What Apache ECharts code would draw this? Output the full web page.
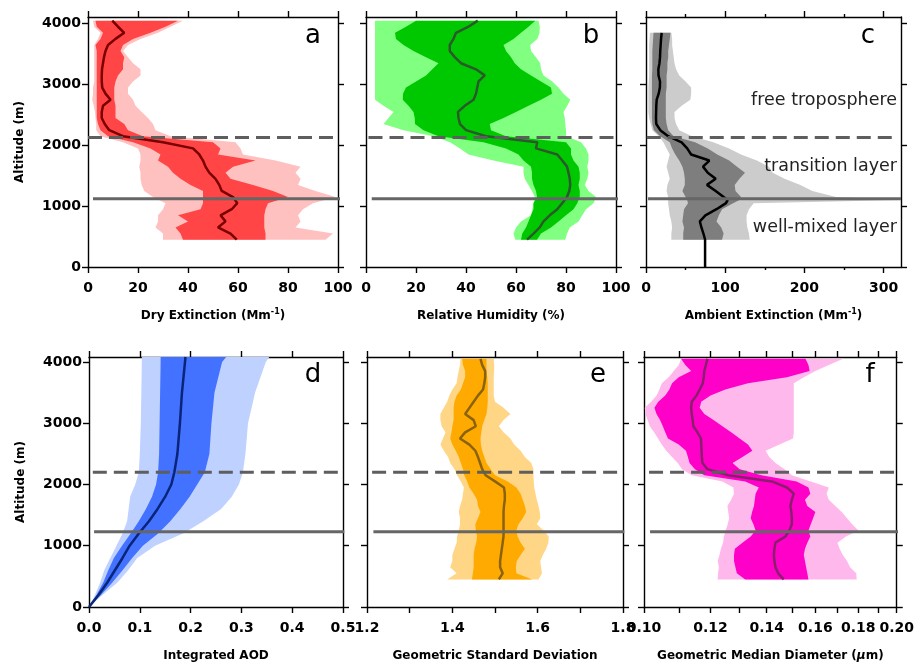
<!DOCTYPE html>
<html><head><meta charset="utf-8">
<script src="https://cdn.jsdelivr.net/npm/echarts@6/dist/echarts.min.js"></script>
<style>html,body{margin:0;padding:0;background:#fff}#chart{width:917px;height:663px}</style>
</head><body><div id="chart"></div>
<script>
// ---------------- DATA ----------------
const altTop = [450,550,650,750,850,950,1050,1150,1250,1350,1450,1550,1650,1750,1850,1950,2050,2150,2250,2350,2450,2550,2650,2750,2850,2950,3050,3150,3250,3350,3450,3550,3650,3750,3850,3950,4050];

// (a) Dry extinction (Mm-1)
const aP10 = [30,30,27,28,28,30,31, 26,22.5,21.5,21,21,20.5,21,21,20,14, 5,3.3,3.3,3,2.8,2.3,1.7,2,2,2.5, 2.5,2.5,2.5,2.5,2.5,2.5,4,5,2.5,2];
const aP25 = [38,37,35,40,36,45,46, 46,46,41,37,34,32,28,29,25,18, 8,5,4,3.5,3.5,3.5,3.5,3.5,3.5,3.5, 3.5,3.5,3.5,3.5,3.5,3,5,6,3.5,3];
const aP50 = [59.5,57,52,55,53,57.5,59.7, 58,53.5,52.5,51,48.5,47,46,44.5,42,30, 14,8.5,6.7,5.5,5.5,6,9,7,5.7,5.5, 5.5,5.6,6,6.4,7,8,11,14.5,12,9.7];
const aP75 = [71,71,70.5,70.5,70.5,71,72, 80,74,66,57,55,58,67,52,53,50, 22,16,14.5,11,11,11,10.5,10.5,10.5,11, 12,14,14,14.5,13,14,18,25,31,36];
const aP90 = [95,98,83,85,84,86,90, 99,91,84,85,83,85,75,62,61,59, 33,27,26,24,21.5,19,18,16,16,18, 21,21,18,16,14,16,21,28,33,38];

// (b) Relative humidity (%)
const bP10 = [59.7,59,60,62,66,66.5,67, 67.5,66.4,65,63.5,63,63,51,41,37.6,33.6, 27,15,7,9,11,7,3.6,3.6,3.6,3.6, 3.6,3.6,3.6,3.6,3.6,3.6,3.6,3.6,3.6,3.6];
const bP25 = [62,62.5,64,65,66,67,67, 68.4,68,67,66.4,66.4,66,63,61,56,47, 29,23,19.6,19.5,19,17,14.7,14.8,16,20, 24,26.5,29,24,19,15,12,11.6,16,20];
const bP50 = [64.4,67,69.5,71,73.5,76.5,78.5, 80.4,81.3,81.7,81.5,81,80.4,78.5,76.5,68,68.5, 48,40,37.6,37,36.8,39.5,43,44,44.5,45, 47.5,44,38,35.5,33.5,33.5,35,36,41,44.7];
const bP75 = [68.4,70,74,77,80,83,84.5, 85.5,85.5,85,85.5,85.5,85,83,82,82,80, 56,50,49.5,55,60,65,70,74.4,74,70, 66,62,59.5,58,56,55,59,62,65,67.7];
const bP90 = [79.7,80.4,81.5,85,86.5,88,91, 92,89,87.5,88.5,89,88.5,89,89,88,86, 80,80,79.7,79.5,79,80.5,81.7,79,77,74.5, 71,70,69.7,68,66,65.7,68.5,69.4,69.5,69];

// (c) Ambient extinction (Mm-1)
const altC = [0,450,550,650,750,850,950,1050,1100,1150,1250,1350,1450,1550,1650,1750,1850,1950,2050,2150,2250,2350,2450,2550,2650,2750,2850,2950,3050,3150,3250,3350,3450,3550,3650,3750,3850];
const cP10 = [null,32,32,33,32,30,29,28, 28,28,26,27,30,28,26,28,30,26, 22,16,8,6,4,3,3,3,3,3, 3.5,4,4,4,4,4,4,4.5,5];
const cP25 = [null,47,47,48,46,47,48,53, 52,50,46,49,49,48,46,42,37,33, 30,18,10,8,7.5,7.5,7.5,7.5,7.5,7.5, 7.5,7.5,8,8,8,8,8.5,9,9.5];
const cP50 = [74.6,74.6,72.5,70,68,75,89,101, 103,98,88,77,88,78,72,80,57,52, 45,28,18,13,12.6,12.8,13,13.5,16,17.5, 17.7,15.8,15.6,17,17.7,18,18.5,19,19.8];
const cP75 = [null,96,98,95,89,92,96,110, 118,120,113,112,118,125,115,105,90,78, 62,35,28,26,25,25,25,25,25,26, 26,26,27,27,28,28,29,30,31];
const cP90 = [null,131,130,128,127,127,130,136, 322,240,210,195,175,160,155,140,120,105, 85,58,42,38,36,36,45,56,57,57, 50,42,38,36,35,34,33,33,32];

// (d) Integrated AOD
const altD = [0,200,400,600,800,1000,1200,1400,1600,1800,2000,2200,2500,3000,3500,4000,4080];
const dP10 = [0,0.012,0.022,0.03,0.042,0.054,0.066,0.075,0.078,0.081,0.091,0.098,0.1,0.102,0.103,0.104,0.104];
const dP25 = [0,0.015,0.028,0.038,0.049,0.065,0.082,0.098,0.112,0.124,0.132,0.136,0.138,0.139,0.14,0.141,0.141];
const dP50 = [0,0.019,0.036,0.051,0.066,0.080,0.098,0.118,0.135,0.150,0.162,0.168,0.174,0.179,0.183,0.189,0.19];
const dP75 = [0,0.024,0.046,0.066,0.085,0.106,0.136,0.16,0.18,0.198,0.213,0.228,0.237,0.241,0.247,0.262,0.27];
const dP90 = [0,0.027,0.056,0.077,0.095,0.13,0.185,0.225,0.26,0.281,0.295,0.303,0.308,0.313,0.327,0.348,0.355];

// (e) Geometric standard deviation
const eP10 = [1.388,1.41,1.395,1.40,1.40,1.405,1.41, 1.411,1.415,1.418,1.418,1.415,1.418,1.423,1.425,1.427,1.42, 1.411,1.405,1.395,1.39,1.38,1.372,1.378,1.384,1.375,1.372, 1.372,1.38,1.388,1.393,1.40,1.41,1.412,1.415,1.418,1.419];
const eP25 = [1.446,1.448,1.45,1.45,1.45,1.452,1.456, 1.458,1.455,1.454,1.46,1.466,1.46,1.458,1.45,1.44,1.435, 1.428,1.425,1.42,1.415,1.408,1.40,1.395,1.398,1.40,1.403, 1.403,1.403,1.405,1.41,1.42,1.425,1.43,1.43,1.425,1.423];
const eP50 = [1.509,1.518,1.512,1.512,1.514,1.516,1.518, 1.52,1.52,1.52,1.52,1.52,1.521,1.523,1.523,1.521,1.50, 1.478,1.47,1.465,1.46,1.454,1.44,1.418,1.43,1.455,1.45, 1.43,1.44,1.45,1.46,1.472,1.475,1.477,1.477,1.47,1.466];
const eP75 = [1.587,1.55,1.549,1.551,1.56,1.57,1.56, 1.553,1.55,1.555,1.565,1.573,1.57,1.565,1.56,1.55,1.53, 1.50,1.49,1.48,1.475,1.47,1.467,1.466,1.468,1.47,1.475, 1.48,1.482,1.483,1.483,1.483,1.483,1.482,1.48,1.48,1.48];
const eP90 = [1.602,1.61,1.608,1.606,1.612,1.62,1.625, 1.626,1.614,1.598,1.606,1.605,1.602,1.598,1.595,1.592,1.591, 1.59,1.59,1.585,1.57,1.56,1.545,1.536,1.52,1.509,1.52, 1.536,1.52,1.5,1.497,1.497,1.497,1.497,1.498,1.498,1.497];

// (f) Geometric median diameter (um)
const fP10 = [0.1224,0.1225,0.1228,0.1224,0.123,0.1235,0.1242, 0.1245,0.1251,0.1258,0.1263,0.126,0.1257,0.127,0.128,0.1278,0.124, 0.114,0.111,0.1097,0.108,0.1063,0.105,0.1039,0.1028,0.1016,0.101, 0.1004,0.1002,0.102,0.1035,0.1043,0.105,0.107,0.1085,0.11,0.1107];
const fP25 = [0.132,0.129,0.1285,0.128,0.128,0.1283,0.131, 0.134,0.1358,0.135,0.134,0.1345,0.1352,0.1355,0.1358,0.137,0.132, 0.118,0.115,0.1133,0.1128,0.1122,0.11,0.1068,0.106,0.1053,0.1045, 0.1035,0.1029,0.104,0.106,0.1072,0.108,0.11,0.1138,0.112,0.1107];
const fP50 = [0.1467,0.1445,0.1434,0.143,0.1428,0.143,0.1434, 0.1474,0.149,0.15,0.15,0.1498,0.1494,0.15,0.1508,0.148,0.142, 0.126,0.119,0.1174,0.1172,0.1171,0.117,0.1169,0.1158,0.1145,0.1143, 0.114,0.1138,0.114,0.1155,0.1165,0.1175,0.1178,0.118,0.1185,0.119];
const fP75 = [0.157,0.1565,0.156,0.1555,0.155,0.1555,0.1565, 0.1578,0.157,0.158,0.159,0.16,0.1565,0.1555,0.1578,0.157,0.152, 0.138,0.13,0.1275,0.131,0.1346,0.133,0.13,0.127,0.124,0.121, 0.118,0.1165,0.117,0.12,0.125,0.133,0.148,0.1575,0.157,0.1557];
const fP90 = [0.1792,0.179,0.176,0.1745,0.1725,0.171,0.17, 0.174,0.18,0.177,0.1745,0.172,0.169,0.166,0.165,0.166,0.158, 0.15,0.147,0.1434,0.141,0.1396,0.145,0.1505,0.1508,0.1508,0.1508, 0.1508,0.1508,0.1508,0.1508,0.1508,0.1508,0.155,0.16,0.166,0.1727];

// layer boundaries (m)
const topRowBoundaries = {transitionTop: 2130, mixedTop: 1120};
const bottomRowBoundaries = {transitionTop: 2200, mixedTop: 1230};

// tick values
const altTicks = [0,1000,2000,3000,4000];
const aTicks = [0,20,40,60,80,100];
const bTicks = [0,20,40,60,80,100];
const cTicks = [0,100,200,300];
const cMinorTicks = [50,150,250];
const dTicks = [0,0.1,0.2,0.3,0.4,0.5];
const eTicks = [1.2,1.3,1.4,1.5,1.6,1.7,1.8];
const eLabels = [1.2,1.4,1.6,1.8];
const fTicks = [0.10,0.11,0.12,0.13,0.14,0.15,0.16,0.17,0.18,0.19,0.20];
const fLabels = [0.10,0.12,0.14,0.16,0.18,0.20];

const xTitles = [
  '{n|Dry Extinction (Mm}{sup|-1}{n|)}',
  '{n|Relative Humidity (%)}',
  '{n|Ambient Extinction (Mm}{sup|-1}{n|)}',
  '{n|Integrated AOD}',
  '{n|Geometric Standard Deviation}',
  '{n|Geometric Median Diameter (}{it|\u03bc}{n|m)}'
];
const panelLetters = ['a','b','c','d','e','f'];
const layerNames = ['free troposphere','transition layer','well-mixed layer'];

// ---------------- CHART ----------------
const FONT = '"DejaVu Sans", sans-serif';
const panels = [
  {grid:{left:88,top:17,width:250,height:250}, xType:'value', xmin:0, xmax:100, ticks:aTicks, labels:aTicks, fmt:v=>String(v), yMax:4110,
   alt:altTop, p10:aP10,p25:aP25,p50:aP50,p75:aP75,p90:aP90, outer:'#FFC0C0', inner:'#FF4545', med:'#7A0000', bnd:topRowBoundaries, solid:[0.02,1.02], dash:[0,1], ylab:true, letter:[313,36]},
  {grid:{left:366,top:17,width:250,height:250}, xType:'value', xmin:0, xmax:100, ticks:bTicks, labels:bTicks, fmt:v=>String(v), yMax:4110,
   alt:altTop, p10:bP10,p25:bP25,p50:bP50,p75:bP75,p90:bP90, outer:'#80FF80', inner:'#00C800', med:'#2A5A2A', bnd:topRowBoundaries, solid:[0.023,1.025], dash:[0.01,1], ylab:false, letter:[591,36]},
  {grid:{left:646,top:17,width:255,height:250}, xType:'value', xmin:0, xmax:322, ticks:cTicks, labels:cTicks, fmt:v=>String(v), yMax:4110, minor:cMinorTicks,
   alt:altC, p10:cP10,p25:cP25,p50:cP50,p75:cP75,p90:cP90, outer:'#CCCCCC', inner:'#7E7E7E', med:'#000000', bnd:topRowBoundaries, solid:[0.008,1.0], dash:[0.003,0.975], ylab:false, letter:[868,36]},
  {grid:{left:89,top:357,width:254,height:256}, xType:'value', xmin:0, xmax:0.5, ticks:dTicks, labels:dTicks, fmt:v=>v.toFixed(1), yMax:4080,
   alt:altD, p10:dP10,p25:dP25,p50:dP50,p75:dP75,p90:dP90, outer:'#BFD1FF', inner:'#4272FF', med:'#0A2478', bnd:bottomRowBoundaries, solid:[0.02,1.005], dash:[0.015,0.985], ylab:true, letter:[313,375]},
  {grid:{left:367,top:357,width:256,height:256}, xType:'value', xmin:1.2, xmax:1.8, ticks:eTicks, labels:eLabels, fmt:v=>v.toFixed(1), yMax:4080,
   alt:altTop, p10:eP10,p25:eP25,p50:eP50,p75:eP75,p90:eP90, outer:'#FFD685', inner:'#FFAA00', med:'#8A620A', bnd:bottomRowBoundaries, solid:[0.025,1.005], dash:[0.02,0.99], ylab:false, letter:[598,375]},
  {grid:{left:644,top:357,width:255,height:256}, xType:'log', xmin:0.1, xmax:0.2, ticks:fTicks, labels:fLabels, fmt:v=>v.toFixed(2), yMax:4080,
   alt:altTop, p10:fP10,p25:fP25,p50:fP50,p75:fP75,p90:fP90, outer:'#FFB8EC', inner:'#FF00C8', med:'#8A1E6E', bnd:bottomRowBoundaries, solid:[0.024,1.005], dash:[0.02,0.99], ylab:false, letter:[870,375]}
];

function fracToVal(p, f) {
  if (p.xType === 'log') return p.xmin * Math.pow(p.xmax / p.xmin, f);
  return p.xmin + f * (p.xmax - p.xmin);
}

const grids = [], xAxes = [], yAxes = [], series = [];
const axisLine = {show:true, onZero:false, lineStyle:{color:'#000', width:1.4}};
const nameRich = {
  n:{fontFamily:FONT, fontWeight:'bold', fontSize:12, lineHeight:16, color:'#000'},
  sup:{fontFamily:FONT, fontWeight:'bold', fontSize:8, lineHeight:8, verticalAlign:'top', color:'#000'},
  it:{fontFamily:FONT, fontWeight:'bold', fontStyle:'italic', fontSize:12, lineHeight:16, color:'#000'}
};

panels.forEach((p, i) => {
  grids.push(Object.assign({containLabel:false}, p.grid));
  const xBase = {gridIndex:i, type:p.xType, min:p.xmin, max:p.xmax, splitLine:{show:false}, axisLine:axisLine};
  if (p.xType === 'log') xBase.logBase = 10;
  const xb = xAxes.length;
  xAxes.push(Object.assign({}, xBase, {
    position:'bottom',
    axisTick:{show:true, inside:false, length:6, customValues:p.ticks, lineStyle:{color:'#000', width:1.4}},
    axisLabel:{show:true, customValues:p.labels, formatter:p.fmt, fontFamily:FONT, fontWeight:'bold', fontSize:14, color:'#000', margin:14},
    name:xTitles[i], nameLocation:'middle', nameGap:41,
    nameTextStyle:{rich:nameRich}
  }));
  xAxes.push(Object.assign({}, xBase, {
    position:'top',
    axisTick:{show:true, inside:false, length:6, customValues:p.ticks, lineStyle:{color:'#000', width:1.4}},
    axisLabel:{show:false}
  }));
  if (p.minor) {
    ['bottom','top'].forEach(pos => {
      xAxes.push(Object.assign({}, xBase, {
        position:pos, axisLine:{show:false, onZero:false},
        axisTick:{show:true, inside:false, length:3, customValues:p.minor, lineStyle:{color:'#000', width:1.4}},
        axisLabel:{show:false}
      }));
    });
  }
  const yBase = {gridIndex:i, type:'value', min:0, max:p.yMax, splitLine:{show:false}, axisLine:axisLine};
  const yl = yAxes.length;
  yAxes.push(Object.assign({}, yBase, {
    position:'left',
    axisTick:{show:true, inside:false, length:6, customValues:altTicks, lineStyle:{color:'#000', width:1.4}},
    axisLabel:{show:p.ylab, customValues:altTicks, formatter:v=>String(v), fontFamily:FONT, fontWeight:'bold', fontSize:14, color:'#000', margin:7},
    name:p.ylab ? 'Altitude (m)' : '', nameLocation:'middle', nameGap:62,
    nameTextStyle:{fontFamily:FONT, fontWeight:'bold', fontSize:12, color:'#000'}
  }));
  yAxes.push(Object.assign({}, yBase, {
    position:'right',
    axisTick:{show:true, inside:false, length:6, customValues:altTicks, lineStyle:{color:'#000', width:1.4}},
    axisLabel:{show:false}
  }));

  const band = (lo, hi, color, z) => ({
    type:'custom', xAxisIndex:xb, yAxisIndex:yl, silent:true, z:z, animation:false,
    data:[[p.p50[p.p50.length-1], p.alt[p.alt.length-1]]],
    renderItem:(params, api) => {
      const pts = [];
      for (let k = 0; k < p.alt.length; k++) if (lo[k] != null) pts.push(api.coord([lo[k], p.alt[k]]));
      for (let k = p.alt.length - 1; k >= 0; k--) if (hi[k] != null) pts.push(api.coord([hi[k], p.alt[k]]));
      return {type:'polygon', shape:{points:pts}, style:{fill:color}};
    }
  });
  series.push(band(p.p10, p.p90, p.outer, 1));
  series.push(band(p.p25, p.p75, p.inner, 2));
  series.push({
    type:'line', xAxisIndex:xb, yAxisIndex:yl, z:3, animation:false, silent:true,
    data:p.alt.map((a, k) => [p.p50[k], a]).filter(d => d[0] != null),
    showSymbol:false, symbol:'none', lineStyle:{color:p.med, width:2.5}
  });
  series.push({
    type:'line', xAxisIndex:xb, yAxisIndex:yl, z:4, animation:false, silent:true, clip:false,
    data:[[fracToVal(p, p.dash[0]), p.bnd.transitionTop], [fracToVal(p, p.dash[1]), p.bnd.transitionTop]],
    showSymbol:false, symbol:'none', lineStyle:{color:'#5E5E5E', width:3, type:[14,7]}
  });
  series.push({
    type:'line', xAxisIndex:xb, yAxisIndex:yl, z:4, animation:false, silent:true, clip:false,
    data:[[fracToVal(p, p.solid[0]), p.bnd.mixedTop], [fracToVal(p, p.solid[1]), p.bnd.mixedTop]],
    showSymbol:false, symbol:'none', lineStyle:{color:'#666666', width:3}
  });
});

const graphics = panels.map((p, i) => ({
  type:'text', x:p.letter[0], y:p.letter[1], z:10,
  style:{text:panelLetters[i], fill:'#000', font:'26px "DejaVu Sans", sans-serif', align:'center', verticalAlign:'middle'}
}));
const layerY = [100, 166, 227];
layerNames.forEach((t, k) => graphics.push({
  type:'text', x:897, y:layerY[k], z:10,
  style:{text:t, fill:'#222', font:'17.5px "DejaVu Sans", sans-serif', align:'right', verticalAlign:'middle'}
}));

const chart = echarts.init(document.getElementById('chart'), null, {renderer:'canvas'});
chart.setOption({
  animation:false,
  backgroundColor:'#fff',
  grid:grids, xAxis:xAxes, yAxis:yAxes, series:series, graphic:graphics
});
</script></body></html>
